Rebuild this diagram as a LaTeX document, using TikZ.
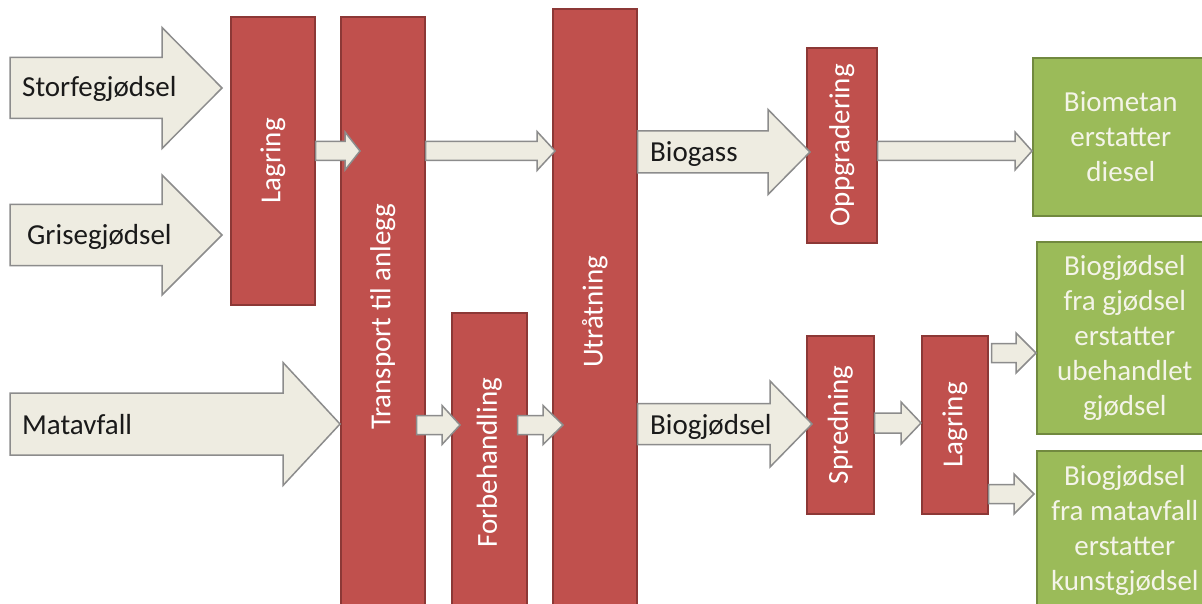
\documentclass[tikz,border=0pt]{standalone}
\usepackage{fontspec}
\setmainfont{Carlito}
\usetikzlibrary{calc}
\definecolor{redfill}{HTML}{C0504D}
\definecolor{redline}{HTML}{8C3836}
\definecolor{greenfill}{HTML}{9BBB59}
\definecolor{greenline}{HTML}{71893F}
\definecolor{greentxt}{HTML}{F4F4E8}
\definecolor{arrowfill}{HTML}{EEECE1}
\definecolor{arrowline}{HTML}{8C8C8C}
\definecolor{textdark}{HTML}{1A1A1A}
\tikzset{
  bigfont/.style={font=\fontsize{29}{35}\selectfont},
  redbox/.style={draw=redline, line width=1.6pt, fill=redfill, text=white, inner sep=0pt, anchor=north west, bigfont},
  greenbox/.style={draw=greenline, line width=1.6pt, fill=greenfill, text=greentxt, inner sep=0pt, anchor=north west, align=center, bigfont},
  flow/.style={draw=arrowline, line width=1.5pt, fill=arrowfill, line join=miter},
  flowlabel/.style={anchor=base west, inner sep=0pt, text=textdark, bigfont}
}
% #1 start, #2 tip, #3 shaft half width, #4 head half width, #5 head length
\newcommand\blockarrow[5]{%
  \draw[flow] let \p1=#1, \p2=#2 in
    (\x1,\y1+#3) -- (\x2-#5,\y1+#3) -- (\x2-#5,\y1+#4) -- (\x2,\y1)
    -- (\x2-#5,\y1-#4) -- (\x2-#5,\y1-#3) -- (\x1,\y1-#3) -- cycle;}
\begin{document}
\begin{tikzpicture}[x=1pt,y=-1pt]
\useasboundingbox (0,0) rectangle (1202,604);
\clip (0,0) rectangle (1202,604);
\fill[white] (0,0) rectangle (1202,604);

% red process boxes
\node[redbox, minimum width=84, minimum height=288] (lag1) at (230,16) {\rotatebox{90}{Lagring}};
\node[redbox, minimum width=84, minimum height=600] (trans) at (340,16) {\rotatebox{90}{Transport til anlegg}};
\node[redbox, minimum width=75, minimum height=300] (forb) at (451,312) {\rotatebox{90}{Forbehandling}};
\node[redbox, minimum width=84, minimum height=606] (utr) at (552,8) {\rotatebox{90}{Utråtning}};
\node[redbox, minimum width=70, minimum height=195] (opp) at (806,47) {\rotatebox{90}{Oppgradering}};
\node[redbox, minimum width=67, minimum height=178] (spr) at (806,335) {\rotatebox{90}{Spredning}};
\node[redbox, minimum width=66, minimum height=178] (lag2) at (921,335) {\rotatebox{90}{Lagring}};

% green result boxes
\node[greenbox, minimum width=176, minimum height=158] (gr1) at (1032,57) {Biometan\\erstatter\\diesel};
\node[greenbox, minimum width=176, minimum height=192] (gr2) at (1036,241) {Biogjødsel\\fra gjødsel\\erstatter\\ubehandlet\\gjødsel};
\node[greenbox, minimum width=176, minimum height=160] (gr3) at (1036,450) {Biogjødsel\\fra matavfall\\erstatter\\kunstgjødsel};

% free start points of the input arrows
\coordinate (s1) at (10,88);
\coordinate (s2) at (10,235);
\coordinate (s3) at (10,424);

% input arrows
\blockarrow{(s1)}{($(lag1.west |- s1)+(-8,0)$)}{30.5pt}{60.5pt}{60pt}
\blockarrow{(s2)}{($(lag1.west |- s2)+(-8,0)$)}{30.5pt}{60pt}{60pt}
\blockarrow{(s3)}{(trans.west |- s3)}{31pt}{61.5pt}{57pt}
\node[flowlabel] (l1) at (22,97) {Storfegjødsel};
\node[flowlabel] (l2) at (27,244) {Grisegjødsel};
\node[flowlabel] (l3) at (22,434) {Matavfall};

% process arrows
\blockarrow{(lag1.east |- 0,151)}{($(trans.west |- 0,151)+(20,0)$)}{9.5pt}{19pt}{15pt}
\blockarrow{(trans.east |- 0,151)}{($(utr.west |- 0,151)+(3,0)$)}{9.5pt}{19.5pt}{18pt}
\blockarrow{(utr.east |- 0,152)}{($(opp.west |- 0,152)+(4,0)$)}{21pt}{42.5pt}{42pt}
\blockarrow{(opp.east |- 0,151)}{(gr1.west |- 0,151)}{9.5pt}{19pt}{17pt}
\blockarrow{($(trans.east |- 0,425)+(-9,0)$)}{($(forb.west |- 0,425)+(9,0)$)}{9.5pt}{19.5pt}{18pt}
\blockarrow{($(forb.east |- 0,425)+(-10,0)$)}{($(utr.west |- 0,425)+(11,0)$)}{9.5pt}{19.5pt}{20pt}
\blockarrow{(utr.east |- 0,424)}{($(spr.west |- 0,424)+(6,0)$)}{20.5pt}{43pt}{42pt}
\blockarrow{(spr.east |- 0,423)}{(lag2.west |- 0,423)}{10pt}{21pt}{20pt}
\blockarrow{($(lag2.east |- 0,353)+(3,0)$)}{(gr2.west |- 0,353)}{9.5pt}{20pt}{20pt}
\blockarrow{(lag2.east |- 0,494)}{($(gr3.west |- 0,494)+(-2,0)$)}{9.5pt}{20pt}{20pt}
\node[flowlabel] (l4) at (650,162) {Biogass};
\node[flowlabel] (l5) at (650,434) {Biogjødsel};
\end{tikzpicture}
\end{document}
